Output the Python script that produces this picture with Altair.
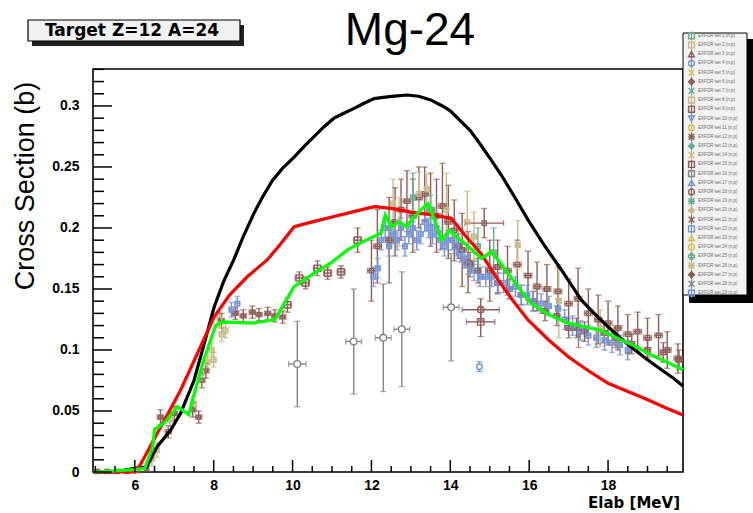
import altair as alt
import pandas as pd

# ---------------- axis ranges / ticks ----------------
x_min, x_max = 4.94, 19.9
y_min, y_max = 0.0, 0.3303
x_label_values = [6, 8, 10, 12, 14, 16, 18]
y_label_values = [0, 0.05, 0.1, 0.15, 0.2, 0.25, 0.3]
x_minor_values = [5.0, 5.5, 6.5, 7.0, 7.5, 8.5, 9.0, 9.5, 10.5, 11.0, 11.5, 12.5, 13.0,
                  13.5, 14.5, 15.0, 15.5, 16.5, 17.0, 17.5, 18.5, 19.0, 19.5]
y_minor_values = [round(i * 0.01, 2) for i in range(0, 34) if i % 5 != 0]

# ---------------- model curves (E [MeV], sigma [b]) ----------------
black_e = [4.94, 5.5, 6.0, 6.3, 6.57, 6.9, 7.16, 7.5, 7.75, 8.01, 8.25, 8.51, 8.75, 9.02, 9.25,
           9.49, 9.75, 10.04, 10.3, 10.55, 10.8, 11.05, 11.3, 11.56, 11.8, 12.07, 12.3, 12.58,
           12.9, 13.2, 13.5, 13.8, 14.0, 14.25, 14.5, 14.75, 15.03, 15.3, 15.6, 15.97, 16.4,
           16.81, 17.32, 17.65, 18.0, 18.34, 18.68, 19.0, 19.36, 19.65, 19.9]
black_s = [0.0, 0.0, 0.003, 0.004, 0.021, 0.034, 0.048, 0.075, 0.104, 0.135, 0.156, 0.174,
           0.193, 0.212, 0.226, 0.239, 0.249, 0.258, 0.267, 0.275, 0.283, 0.290, 0.294, 0.298,
           0.302, 0.306, 0.307, 0.308, 0.309, 0.308, 0.305, 0.300, 0.296, 0.288, 0.280, 0.269,
           0.256, 0.243, 0.227, 0.2066, 0.185, 0.166, 0.141, 0.130, 0.119, 0.109, 0.100, 0.092,
           0.0836, 0.077, 0.0705]

red_e = [4.94, 6.0, 6.14, 7.16, 8.01, 8.4, 8.85, 9.36, 9.7, 10.04, 10.5, 11.0, 11.5, 12.07,
         12.5, 13.0, 13.5, 14.02, 14.4, 14.78, 15.2, 15.6, 15.97, 16.5, 16.99, 17.5, 18.0,
         18.5, 19.02, 19.5, 19.9]
red_s = [0.0, 0.0, 0.006, 0.067, 0.127, 0.145, 0.160, 0.174, 0.187, 0.201, 0.205, 0.209,
         0.213, 0.2175, 0.216, 0.213, 0.211, 0.208, 0.193, 0.179, 0.158, 0.140, 0.1246,
         0.108, 0.0945, 0.083, 0.0727, 0.066, 0.059, 0.052, 0.0467]

green_e = [4.94, 6.0, 6.25, 6.45, 6.5, 6.74, 7.08, 7.37, 7.46, 7.75, 8.05, 8.2, 9.0, 9.55,
           10.04, 10.55, 11.0, 11.39, 11.8, 12.24, 12.35, 12.5, 12.71, 12.88, 13.05, 13.26,
           13.43, 13.55, 13.77, 13.98, 14.15, 14.45, 14.79, 15.04, 15.3, 15.64, 16.05, 16.5,
           16.99, 17.4, 17.83, 18.34, 18.7, 19.02, 19.5, 19.9]
green_s = [0.0, 0.002, 0.003, 0.02, 0.035, 0.040, 0.0535, 0.047, 0.059, 0.092, 0.12, 0.123,
           0.122, 0.125, 0.152, 0.163, 0.172, 0.182, 0.189, 0.1957, 0.2107, 0.201, 0.205,
           0.201, 0.208, 0.215, 0.220, 0.211, 0.190, 0.198, 0.193, 0.185, 0.175, 0.1805,
           0.170, 0.155, 0.138, 0.129, 0.122, 0.119, 0.116, 0.108, 0.103, 0.097, 0.090, 0.0836]

# ---------------- measurements: (E, sigma, dE, dsigma) ----------------
brown_low = [(5.05, 0.0005, 0.05, 0.001), (5.3, 0.0005, 0.05, 0.001), (5.55, 0.0005, 0.05, 0.001),
             (5.8, 0.0005, 0.05, 0.001), (6.05, 0.001, 0.05, 0.001), (6.3, 0.003, 0.05, 0.002),
             (6.65, 0.045, 0.08, 0.006), (6.85, 0.033, 0.08, 0.005), (7.0, 0.048, 0.08, 0.006),
             (7.47, 0.051, 0.08, 0.006), (7.62, 0.045, 0.08, 0.005), (7.7, 0.075, 0.08, 0.006),
             (7.8, 0.083, 0.08, 0.006), (8.2, 0.124, 0.08, 0.006), (8.55, 0.130, 0.08, 0.005),
             (8.75, 0.128, 0.08, 0.005), (8.98, 0.131, 0.08, 0.005), (9.15, 0.129, 0.08, 0.005),
             (9.37, 0.130, 0.08, 0.005), (9.55, 0.128, 0.08, 0.005), (9.75, 0.127, 0.08, 0.005)]
brown_sq = [(9.87, 0.137, 0.1, 0.006), (10.17, 0.159, 0.1, 0.005), (10.33, 0.155, 0.1, 0.005),
            (10.63, 0.167, 0.1, 0.006), (10.89, 0.163, 0.1, 0.005), (11.23, 0.164, 0.1, 0.005),
            (11.65, 0.19, 0.1, 0.01), (14.77, 0.123, 0.36, 0.012)]
brown_hi = [(12.0, 0.165, 0.1, 0.025), (12.15, 0.185, 0.1, 0.03), (12.45, 0.19, 0.1, 0.035),
            (12.6, 0.205, 0.1, 0.028), (12.75, 0.215, 0.1, 0.025), (12.9, 0.222, 0.1, 0.025),
            (13.05, 0.21, 0.1, 0.03), (13.2, 0.225, 0.1, 0.025), (13.35, 0.228, 0.1, 0.022),
            (13.5, 0.215, 0.1, 0.03), (13.65, 0.21, 0.1, 0.03), (13.8, 0.218, 0.1, 0.035),
            (13.95, 0.205, 0.1, 0.03), (14.1, 0.198, 0.1, 0.025), (14.3, 0.182, 0.1, 0.03),
            (14.45, 0.172, 0.1, 0.025), (14.86, 0.204, 0.49, 0.012), (15.0, 0.165, 0.1, 0.025),
            (15.2, 0.168, 0.1, 0.022), (15.45, 0.165, 0.1, 0.02), (15.7, 0.17, 0.1, 0.02),
            (15.97, 0.161, 0.1, 0.02), (16.2, 0.152, 0.1, 0.02), (16.45, 0.15, 0.1, 0.02),
            (16.73, 0.148, 0.1, 0.02), (17.0, 0.138, 0.1, 0.02), (17.24, 0.142, 0.1, 0.025),
            (17.5, 0.13, 0.1, 0.02), (17.75, 0.125, 0.1, 0.02), (18.0, 0.122, 0.1, 0.018),
            (18.25, 0.118, 0.1, 0.018), (18.5, 0.113, 0.1, 0.016), (18.75, 0.115, 0.1, 0.016),
            (19.0, 0.11, 0.1, 0.016), (19.28, 0.112, 0.1, 0.017), (19.5, 0.1, 0.1, 0.015),
            (19.77, 0.093, 0.1, 0.012)]
brown_dense = [(14.2, 0.185, 0.08, 0.01), (14.5, 0.17, 0.08, 0.01), (14.7, 0.165, 0.08, 0.01),
               (15.2, 0.155, 0.08, 0.008), (15.5, 0.15, 0.08, 0.008), (15.8, 0.145, 0.08, 0.008),
               (16.1, 0.14, 0.08, 0.008), (16.4, 0.132, 0.08, 0.008), (16.7, 0.128, 0.08, 0.008),
               (17.0, 0.118, 0.08, 0.008), (17.2, 0.118, 0.08, 0.008), (17.4, 0.115, 0.08, 0.008),
               (17.9, 0.114, 0.08, 0.008), (18.2, 0.11, 0.08, 0.008), (18.6, 0.105, 0.08, 0.008),
               (19.0, 0.1, 0.08, 0.008), (19.4, 0.098, 0.08, 0.008), (19.8, 0.092, 0.08, 0.008)]
brown_circ = [(14.77, 0.133, 0.47, 0.009)]
blue_set = [(8.45, 0.133, 0.06, 0.006), (8.6, 0.138, 0.06, 0.006),
            (12.05, 0.16, 0.06, 0.008), (12.16, 0.167, 0.06, 0.008), (12.25, 0.19, 0.06, 0.008),
            (12.35, 0.2, 0.06, 0.008), (12.45, 0.185, 0.06, 0.008), (12.55, 0.195, 0.06, 0.008),
            (12.65, 0.19, 0.06, 0.008), (12.75, 0.2, 0.06, 0.008), (12.85, 0.185, 0.06, 0.008),
            (12.95, 0.195, 0.06, 0.008), (13.05, 0.2, 0.06, 0.008), (13.15, 0.19, 0.06, 0.008),
            (13.25, 0.195, 0.06, 0.008), (13.35, 0.205, 0.06, 0.008), (13.45, 0.2, 0.06, 0.008),
            (13.55, 0.195, 0.06, 0.008), (13.65, 0.2, 0.06, 0.008), (13.75, 0.19, 0.06, 0.008),
            (13.85, 0.185, 0.06, 0.008), (13.95, 0.19, 0.06, 0.008), (14.05, 0.19, 0.06, 0.008),
            (14.15, 0.185, 0.06, 0.008), (14.25, 0.18, 0.06, 0.008), (14.35, 0.175, 0.06, 0.008),
            (14.45, 0.17, 0.06, 0.008), (14.6, 0.165, 0.06, 0.008), (14.75, 0.16, 0.06, 0.008),
            (14.9, 0.16, 0.06, 0.008), (15.05, 0.16, 0.06, 0.008), (15.2, 0.155, 0.06, 0.008),
            (15.35, 0.155, 0.06, 0.008), (15.5, 0.15, 0.06, 0.008), (15.65, 0.152, 0.06, 0.008),
            (15.8, 0.145, 0.06, 0.008), (15.95, 0.145, 0.06, 0.008), (16.1, 0.14, 0.06, 0.008),
            (16.3, 0.138, 0.06, 0.008), (16.5, 0.136, 0.06, 0.008), (16.73, 0.134, 0.06, 0.008),
            (16.9, 0.125, 0.06, 0.008), (17.1, 0.12, 0.06, 0.008), (17.3, 0.116, 0.06, 0.008),
            (17.5, 0.112, 0.06, 0.008), (17.7, 0.11, 0.06, 0.008), (17.91, 0.108, 0.06, 0.008),
            (18.1, 0.106, 0.06, 0.008), (18.3, 0.104, 0.06, 0.008), (18.5, 0.1, 0.06, 0.008)]
blue_single = [(14.74, 0.0863, 0.0, 0.004)]
tan_set = [(6.43, 0.011, 0.06, 0.006), (6.56, 0.018, 0.06, 0.006), (6.9, 0.043, 0.06, 0.006),
           (7.5, 0.056, 0.06, 0.006), (7.69, 0.081, 0.06, 0.006), (7.85, 0.09, 0.06, 0.006),
           (7.95, 0.1, 0.06, 0.006), (8.0, 0.092, 0.06, 0.006), (8.15, 0.125, 0.06, 0.006),
           (8.2, 0.113, 0.06, 0.006), (8.3, 0.116, 0.06, 0.006),
           (12.55, 0.22, 0.06, 0.02), (12.7, 0.205, 0.06, 0.02), (13.2, 0.228, 0.06, 0.018),
           (13.4, 0.232, 0.06, 0.012), (13.9, 0.215, 0.06, 0.03), (14.43, 0.205, 0.06, 0.025),
           (14.6, 0.193, 0.06, 0.02), (15.71, 0.186, 0.06, 0.02), (16.75, 0.14, 0.06, 0.03),
           (17.8, 0.118, 0.06, 0.015)]
teal_set = [(12.45, 0.2, 0.06, 0.015), (13.05, 0.225, 0.06, 0.02), (13.5, 0.215, 0.06, 0.012),
            (14.7, 0.185, 0.06, 0.015), (15.1, 0.18, 0.06, 0.02)]
gray_set = [(10.12, 0.0885, 0.22, 0.035), (11.55, 0.107, 0.2, 0.043), (12.3, 0.110, 0.2, 0.044),
            (12.77, 0.117, 0.2, 0.047), (14.02, 0.135, 0.2, 0.044)]
gray_small = [(17.25, 0.112, 0.0, 0.01)]

# ---------------- drawing styles ----------------
BROWN, BLUE, TAN, TEAL, GRAY, YELLOW = "#8e5d57", "#7393d6", "#c9ba84", "#66ad8f", "#858585", "#d7c05a"
X_SHAPE = "M-1,-1L1,1M-1,1L1,-1"
STAR_SHAPE = "M-1,-1L1,1M-1,1L1,-1M0,-1.2L0,1.2M-1.2,0L1.2,0"
series_styles = {
    "brown_low": (brown_low, BROWN, "square", "transparent", 14),
    "brown_sq": (brown_sq, BROWN, "square", "transparent", 40),
    "brown_hi": (brown_hi, BROWN, "square", "transparent", 20),
    "brown_dense": (brown_dense, BROWN, "square", "transparent", 20),
    "brown_circ": (brown_circ, BROWN, "circle", "transparent", 40),
    "tan_set": (tan_set, TAN, "square", "transparent", 20),
    "teal_set": (teal_set, TEAL, "square", "transparent", 20),
    "blue_set": (blue_set, BLUE, "square", "transparent", 20),
    "blue_single": (blue_single, BLUE, "circle", "white", 30),
    "gray_set": (gray_set, GRAY, "circle", "white", 45),
    "gray_small": (gray_small, GRAY, X_SHAPE, "transparent", 20),
}

rows = []
for key, (pts, color, shape, fill, size) in series_styles.items():
    for e, s, de, ds in pts:
        rows.append(dict(E=e, S=s, Elo=e - de, Ehi=e + de, Slo=s - ds, Shi=s + ds,
                         dE=de, dS=ds, color=color, shape=shape, fill=fill, size=size))
meas = pd.DataFrame(rows)

caps_v = pd.concat([meas.assign(cy=meas.Slo), meas.assign(cy=meas.Shi)])
caps_v = caps_v[caps_v.dS > 0]
caps_h = pd.concat([meas.assign(cx=meas.Elo), meas.assign(cx=meas.Ehi)])
caps_h = caps_h[caps_h.dE > 0]

curves = pd.concat([
    pd.DataFrame({"E": black_e, "S": black_s, "model": "black", "k": 0}),
    pd.DataFrame({"E": red_e, "S": red_s, "model": "red", "k": 1}),
    pd.DataFrame({"E": green_e, "S": green_s, "model": "lime", "k": 2}),
])

# ---------------- geometry ----------------
W, H = 590, 403
L, T = 93, 69

xs = alt.Scale(domain=[x_min, x_max], nice=False, zero=False)
ys = alt.Scale(domain=[y_min, y_max], nice=False, zero=False)
x_axis = alt.Axis(values=x_label_values, title=None, ticks=False, domain=False, grid=False,
                  labelFont="Liberation Sans", labelFontWeight="bold", labelFontSize=14,
                  labelColor="black", labelPadding=6, labelFlush=False)
y_axis = alt.Axis(values=y_label_values, format=".2~f", title=None, ticks=False, domain=False,
                  grid=False, labelFont="Liberation Sans", labelFontWeight="bold",
                  labelFontSize=14, labelColor="black", labelPadding=14)


def X(field):
    return alt.X(field, type="quantitative", scale=xs, axis=x_axis)


def Y(field):
    return alt.Y(field, type="quantitative", scale=ys, axis=y_axis)


base = alt.Chart(meas)
err_v = base.mark_rule(strokeWidth=1.4).encode(
    x=X("E"), y=Y("Slo"), y2="Shi", color=alt.Color("color:N", scale=None))
err_h = base.mark_rule(strokeWidth=1.4).encode(
    x=X("Elo"), x2="Ehi", y=Y("S"), color=alt.Color("color:N", scale=None))
cap_v = alt.Chart(caps_v).mark_tick(orient="horizontal", size=6, thickness=1.3).encode(
    x=X("E"), y=Y("cy"), color=alt.Color("color:N", scale=None))
cap_h = alt.Chart(caps_h).mark_tick(orient="vertical", size=6, thickness=1.3).encode(
    x=X("cx"), y=Y("S"), color=alt.Color("color:N", scale=None))
markers = base.mark_point(strokeWidth=1.4, opacity=1, fillOpacity=1).encode(
    x=X("E"), y=Y("S"),
    stroke=alt.Stroke("color:N", scale=None),
    fill=alt.Fill("fill:N", scale=None),
    shape=alt.Shape("shape:N", scale=None),
    size=alt.Size("size:Q", scale=None),
)
lines = alt.Chart(curves).mark_line(strokeWidth=3.2).encode(
    x=X("E"), y=Y("S"),
    color=alt.Color("model:N", scale=None),
    detail="k:N",
)

# inward ticks on the left and bottom frame edges
y_major = alt.Chart(pd.DataFrame({"v": y_label_values})).mark_rule(color="black", strokeWidth=1.5).encode(
    y=Y("v"), x=alt.value(0), x2=alt.value(19))
y_minor = alt.Chart(pd.DataFrame({"v": y_minor_values})).mark_rule(color="black", strokeWidth=1.5).encode(
    y=Y("v"), x=alt.value(0), x2=alt.value(11))
x_major = alt.Chart(pd.DataFrame({"v": x_label_values})).mark_rule(color="black", strokeWidth=1.5).encode(
    x=X("v"), y=alt.value(H), y2=alt.value(H - 12))
x_minor = alt.Chart(pd.DataFrame({"v": x_minor_values})).mark_rule(color="black", strokeWidth=1.5).encode(
    x=X("v"), y=alt.value(H), y2=alt.value(H - 6))

one = pd.DataFrame({"k": [0]})


def box(x0, x1, y0, y1, fill, stroke=None, sw=0):
    kw = dict(fill=fill, strokeWidth=sw)
    if stroke:
        kw["stroke"] = stroke
    return alt.Chart(one).mark_rect(**kw).encode(
        x=alt.value(x0 - L), x2=alt.value(x1 - L), y=alt.value(y0 - T), y2=alt.value(y1 - T))


def label(text, x, y, size, font, weight="normal", align="center", angle=0, color="black"):
    return alt.Chart(one).mark_text(
        text=text, font=font, fontSize=size, fontWeight=weight, align=align,
        baseline="alphabetic", angle=angle, color=color,
    ).encode(x=alt.value(x - L), y=alt.value(y - T))


title = label("Mg-24", 410, 45, 46, "Liberation Sans")
y_title = label("Cross Section (b)", 34, 186, 27, "Liberation Sans", angle=270)
x_title = label("Elab [MeV]", 680, 508, 15, "DejaVu Sans", weight="bold", align="right")
target_shadow = box(32, 244, 25, 46, "#222222")
target_box = box(28, 240, 20, 41, "#f1f1f1", "black", 1.2)
target_text = label("Target Z=12 A=24", 132, 36, 17, "DejaVu Sans", weight="bold")

# legend panel on the right edge
legend_labels = [f"EXFOR set {i + 1} (n,p)" for i in range(29)]
legend_colors = [TEAL, TAN, BROWN, BLUE, YELLOW, BROWN, TEAL, TAN, BROWN, BLUE, YELLOW, BROWN,
                 TEAL, TAN, BROWN, GRAY, BLUE, BROWN, TEAL, TAN, BROWN, BLUE, YELLOW, YELLOW,
                 TEAL, TAN, BROWN, GRAY, BLUE]
legend_shapes = ["square", "square", "triangle-up", "circle", X_SHAPE, "diamond", X_SHAPE,
                 "square", "square", "triangle-down", "circle", STAR_SHAPE, "diamond", X_SHAPE,
                 "square", "square", "triangle-up", "circle", STAR_SHAPE, "diamond", X_SHAPE,
                 "square", "triangle-up", "circle", "cross", STAR_SHAPE, "diamond", X_SHAPE,
                 "square"]
legend_fills = ["transparent" if s not in ("diamond",) else c for s, c in zip(legend_shapes, legend_colors)]
leg = pd.DataFrame({
    "label": legend_labels,
    "color": legend_colors,
    "shape": legend_shapes,
    "fill": legend_fills,
    "py": [35.8 + 9.19 * i - T for i in range(29)],
})
leg["py_lo"] = leg.py - 4.5
leg["py_hi"] = leg.py + 4.5

legend_shadow = box(689, 753, 39, 303, "#000000")
legend_box = box(683, 747, 33, 295, "#f2f2f2", "black", 1.0)
legend_bars = alt.Chart(leg).mark_rule(strokeWidth=1.2).encode(
    x=alt.value(691.5 - L), y=alt.Y("py_lo:Q", scale=None), y2="py_hi:Q",
    color=alt.Color("color:N", scale=None))
legend_marks = alt.Chart(leg).mark_point(size=34, strokeWidth=1.4, opacity=1, fillOpacity=1).encode(
    x=alt.value(691.5 - L), y=alt.Y("py:Q", scale=None),
    stroke=alt.Stroke("color:N", scale=None), fill=alt.Fill("fill:N", scale=None),
    shape=alt.Shape("shape:N", scale=None))
legend_text = alt.Chart(leg).mark_text(align="left", baseline="middle", fontSize=4.5,
                                        font="Liberation Sans", color="#6a6a6a").encode(
    x=alt.value(698 - L), y=alt.Y("py:Q", scale=None), text="label:N")

chart = alt.layer(
    err_v, err_h, cap_v, cap_h, markers, lines,
    y_major, y_minor, x_major, x_minor,
    title, y_title, x_title,
    target_shadow, target_box, target_text,
    legend_shadow, legend_box, legend_bars, legend_marks, legend_text,
).resolve_scale(y="shared").properties(
    width=W, height=H,
    autosize=alt.AutoSizeParams(type="none"),
    padding={"left": L, "top": T, "right": 753 - L - W, "bottom": 513 - T - H},
    background="white",
).configure_view(stroke="black", strokeWidth=1.6)

chart.save("out.html", embed_options={"renderer": "svg", "actions": False})
